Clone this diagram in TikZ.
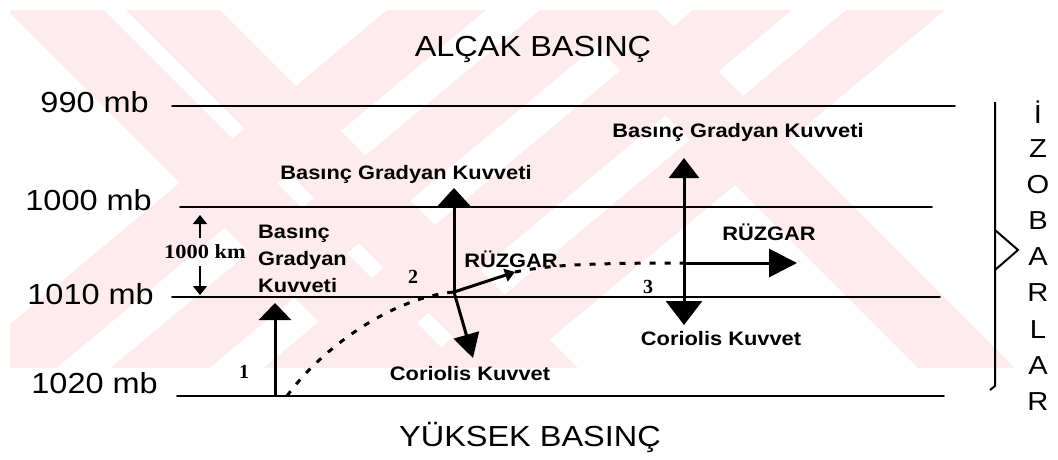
\documentclass[tikz,border=0pt]{standalone}
\usepackage{fontspec}
\setmainfont{Liberation Sans}
\newfontfamily\serifb{Liberation Serif}
\usetikzlibrary{arrows.meta}
\definecolor{wm}{RGB}{253,235,238}
\newcommand\hs[1]{\scalebox{1.12}[1]{#1}}
\begin{document}
\begin{tikzpicture}[x=1pt,y=-1pt,
  iso/.style={line width=1.8pt, line cap=round},
  big/.style={font=\fontsize{29}{31}\selectfont, inner sep=0pt},
  lab/.style={font=\fontsize{19.5}{21}\selectfont\bfseries, inner sep=0pt},
  num/.style={font=\serifb\fontsize{20}{21}\selectfont\bfseries, inner sep=0pt},
  letter/.style={font=\fontsize{26}{27}\selectfont, inner sep=0pt},
  shaft/.style={line width=3pt},
  windpath/.style={line width=3pt, dash pattern=on 6pt off 9pt},
  thin/.style={line width=1.6pt},
]
\useasboundingbox (0,0) rectangle (1058,459);
% watermark
\begin{scope}
\clip (10,10) rectangle (1013,368);
\foreach \a/\b/\s in {7/104/1, 126/220/1, 560/657/1, 387/486/-1.2, 540/639/-1.2, 693/792/-1.2, 846/945/-1.2}
  \fill[wm] (\a,10) -- (\b,10) -- ({\b+\s*358},368) -- ({\a+\s*358},368) -- cycle;
\end{scope}

% titles
\node[big, anchor=base] (low) at (533,56) {\hs{ALÇAK BASINÇ}};
\node[big, anchor=base] (high) at (530,446) {\hs{YÜKSEK BASINÇ}};

% isobar labels
\node[big, anchor=base east] (m990) at (149,112) {\hs{990 mb}};
\node[big, anchor=base east] (m1000) at (152,210) {\hs{1000 mb}};
\node[big, anchor=base east] (m1010) at (154,304) {\hs{1010 mb}};
\node[big, anchor=base east] (m1020) at (158,393) {\hs{1020 mb}};

% isobar lines
\coordinate (i990a) at (172,106);  \coordinate (i990b) at (955,106);
\coordinate (i1000a) at (180,207); \coordinate (i1000b) at (932,207);
\coordinate (i1010a) at (172,297); \coordinate (i1010b) at (940,297);
\coordinate (i1020a) at (177,396); \coordinate (i1020b) at (944,396);
\draw[iso] (i990a) -- (i990b);
\draw[iso] (i1000a) -- (i1000b);
\draw[iso] (i1010a) -- (i1010b);
\draw[iso] (i1020a) -- (i1020b);

% 1000 km scale
\node[num, anchor=base] (km) at (205,258) {\hs{1000 km}};
\coordinate (kmu0) at (200,238); \coordinate (kmu1) at (200,215);
\coordinate (kmd0) at (200,266); \coordinate (kmd1) at (200,295);
\draw[thin, -{Triangle[length=9pt,width=14pt]}] (kmu0) -- (kmu1);
\draw[thin, -{Triangle[length=9pt,width=14pt]}] (kmd0) -- (kmd1);

% labels
\node[lab, anchor=base west] (bg1a) at (258,238) {\hs{Basınç}};
\node[lab, anchor=base west] (bg1b) at (258,265) {\hs{Gradyan}};
\node[lab, anchor=base west] (bg1c) at (258,292) {\hs{Kuvveti}};
\node[lab, anchor=base] (bg2) at (406,179) {\hs{Basınç Gradyan Kuvveti}};
\node[lab, anchor=base] (bg3) at (738,137) {\hs{Basınç Gradyan Kuvveti}};
\node[lab, anchor=base] (co2) at (470,380) {\hs{Coriolis Kuvvet}};
\node[lab, anchor=base] (co3) at (721,345) {\hs{Coriolis Kuvvet}};
\node[lab, anchor=base] (rz2) at (511,267) {\hs{RÜZGAR}};
\node[lab, anchor=base] (rz3) at (769,240) {\hs{RÜZGAR}};
\node[num, anchor=base] (n1) at (244,378) {1};
\node[num, anchor=base] (n2) at (413,283) {2};
\node[num, anchor=base] (n3) at (648,293) {3};

% points
\coordinate (p1) at (275,397);
\coordinate (p1t) at (275,303);
\coordinate (w0) at (287,396);
\coordinate (p2) at (454,292);
\coordinate (p2bg) at (454,188);
\coordinate (p2co) at (473,358);
\coordinate (p2w) at (515,272);
\coordinate (p3) at (684,263);
\coordinate (p3bg) at (684,158);
\coordinate (p3co) at (684,325);
\coordinate (p3w) at (797,263);

% wind path
\draw[windpath] (w0) .. controls (320,350) and (390,298) .. (p2);
\draw[windpath] (p2w) .. controls (545,266) and (575,263) .. (p3);

% force arrows
\draw[shaft, -{Triangle[length=17pt,width=32pt]}] (p1) -- (p1t);
\draw[shaft, -{Triangle[length=19pt,width=34pt]}] (p2) -- (p2bg);
\draw[shaft, -{Triangle[length=24pt,width=26pt]}] (p2) -- (p2co);
\draw[shaft, -{Triangle[length=10pt,width=13pt]}] (p2) -- (p2w);
\draw[shaft, -{Triangle[length=20pt,width=30pt]}] (p3) -- (p3bg);
\draw[shaft, -{Triangle[length=24pt,width=36pt]}] (p3) -- (p3co);
\draw[shaft, -{Triangle[length=28pt,width=28pt]}] (p3) -- (p3w);

% bracket
\coordinate (br0) at (995,102);
\coordinate (br1) at (995,386);
\coordinate (br2) at (990,390);
\coordinate (nt0) at (995,230);
\coordinate (nt1) at (1018,250);
\coordinate (nt2) at (995,270);
\draw[line width=2pt] (br0) -- (br1) -- (br2);
\draw[line width=2pt, line join=miter] (nt0) -- (nt1) -- (nt2);

% vertical word
\foreach \ch [count=\k from 0] in {İ,Z,O,B,A,R,L,A,R}
  \node[letter] (lt\k) at (1038,{112+36.2*\k}) {\hs{\ch}};
\end{tikzpicture}
\end{document}
